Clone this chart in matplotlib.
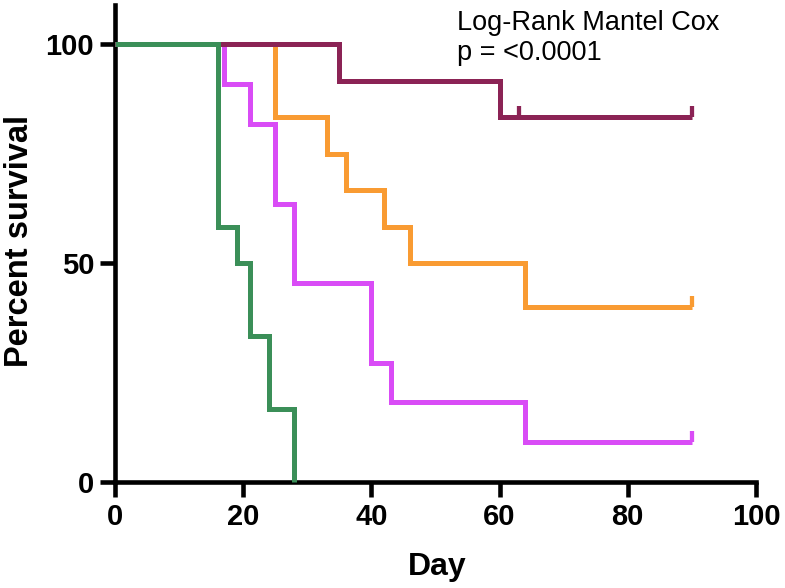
import matplotlib
matplotlib.use("Agg")
import matplotlib.pyplot as plt

bold_font = 'Liberation Sans'

# Data (Kaplan-Meier steps)
green_t = [0, 16, 19, 21, 24, 28]
green_s = [100, 58.3, 50, 33.3, 16.7, 0]
magenta_t = [0, 17, 21, 25, 28, 40, 43, 64, 90]
magenta_s = [100, 90.9, 81.8, 63.6, 45.5, 27.3, 18.2, 9.1, 9.1]
orange_t = [0, 25, 33, 36, 42, 46, 64, 90]
orange_s = [100, 83.3, 75, 66.7, 58.3, 50, 40, 40]
maroon_t = [0, 35, 60, 90]
maroon_s = [100, 91.7, 83.3, 83.3]

censor_orange = ([90], [40])
censor_magenta = ([90], [9.1])
censor_maroon = ([63, 90], [83.3, 83.3])

x_ticks = [0, 20, 40, 60, 80, 100]
y_ticks = [0, 50, 100]

col_green = '#3b8f58'
col_magenta = '#d94cf6'
col_orange = '#f99b32'
col_maroon = '#8b2355'

fig = plt.figure(figsize=(7.85, 5.88), dpi=100)
ax = fig.add_axes([115/785, 1-482/588, (756-115)/785, (482-5)/588])

lw = 3.6
series = [
    (orange_t, orange_s, col_orange, censor_orange, 2),
    (magenta_t, magenta_s, col_magenta, censor_magenta, 3),
    (maroon_t, maroon_s, col_maroon, censor_maroon, 4),
    (green_t, green_s, col_green, None, 5),
]
for t, s, c, cens, z in series:
    ax.step(t, s, where='post', color=c, lw=lw, zorder=z, clip_on=False,
            solid_joinstyle='miter', solid_capstyle='butt')
    if cens is not None:
        ax.vlines(cens[0], [v for v in cens[1]], [v + 2.6 for v in cens[1]],
                  color=c, lw=lw*0.85, zorder=z, clip_on=False)

ax.set_xlim(0, 100)
ax.set_ylim(0, 109)
ax.set_xticks(x_ticks)
ax.set_yticks(y_ticks)
for sp in ['top', 'right']:
    ax.spines[sp].set_visible(False)
for sp in ['left', 'bottom']:
    ax.spines[sp].set_linewidth(3.3)
    ax.spines[sp].set_zorder(1)
ax.tick_params(axis='both', width=3.3, length=11, direction='out', pad=4)
for lab in ax.get_xticklabels() + ax.get_yticklabels():
    lab.set_fontfamily(bold_font)
    lab.set_fontweight('bold')
    lab.set_fontsize(21)

fig.text(437/785, 1-575/588, 'Day', fontfamily=bold_font, fontweight='bold',
         fontsize=23, ha='center', va='baseline')
fig.text(4/785, 1-241/588, 'Percent survival', fontfamily=bold_font, fontweight='bold',
         fontsize=23.5, ha='left', va='center', rotation=90)

fig.text(457/785, 1-30/588, 'Log-Rank Mantel Cox',
         fontfamily='Liberation Sans', fontsize=19.5, ha='left', va='baseline')
fig.text(457/785, 1-60/588, 'p = <0.0001',
         fontfamily='Liberation Sans', fontsize=19.5, ha='left', va='baseline')

fig.savefig('out.png', dpi=100)
